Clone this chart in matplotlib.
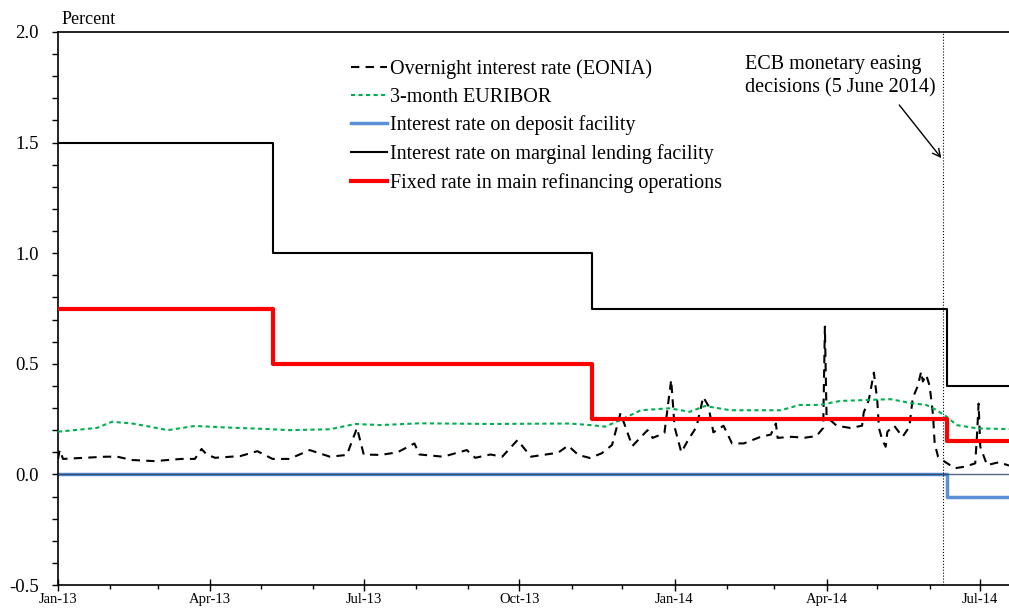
import pandas as pd
import matplotlib
matplotlib.use('Agg')
import matplotlib.pyplot as plt
import matplotlib.dates as mdates
from matplotlib.ticker import MultipleLocator, FormatStrFormatter

plt.rcParams['font.family'] = ['Liberation Serif', 'DejaVu Serif']

# EONIA (overnight rate)
eonia_dates = [
    '2013-01-01', '2013-01-02', '2013-01-04', '2013-01-29', '2013-02-05', '2013-02-14',
    '2013-02-27', '2013-03-15', '2013-03-23', '2013-03-27', '2013-03-30', '2013-04-04',
    '2013-04-19', '2013-04-29', '2013-05-08', '2013-05-18', '2013-05-30', '2013-06-11',
    '2013-06-21', '2013-06-27', '2013-07-01', '2013-07-11', '2013-07-21', '2013-07-31',
    '2013-08-03', '2013-08-17', '2013-08-31', '2013-09-05', '2013-09-14', '2013-09-21',
    '2013-09-30', '2013-10-08', '2013-10-24', '2013-10-30', '2013-11-05', '2013-11-12',
    '2013-11-19', '2013-11-25', '2013-11-30', '2013-12-07', '2013-12-16', '2013-12-19',
    '2013-12-26', '2013-12-30', '2014-01-01', '2014-01-05', '2014-01-09', '2014-01-14',
    '2014-01-18', '2014-01-21', '2014-01-24', '2014-01-30', '2014-02-04', '2014-02-11',
    '2014-02-21', '2014-02-27', '2014-03-02', '2014-03-03', '2014-03-11', '2014-03-19',
    '2014-03-26', '2014-03-30', '2014-03-31', '2014-04-01', '2014-04-07', '2014-04-15',
    '2014-04-22', '2014-04-23', '2014-04-26', '2014-04-29', '2014-05-01', '2014-05-02',
    '2014-05-04', '2014-05-06', '2014-05-07', '2014-05-11', '2014-05-16', '2014-05-20',
    '2014-05-22', '2014-05-25', '2014-05-27', '2014-05-28', '2014-05-30', '2014-06-01',
    '2014-06-02', '2014-06-03', '2014-06-04', '2014-06-06', '2014-06-10', '2014-06-16',
    '2014-06-22', '2014-06-28', '2014-06-29', '2014-06-30', '2014-07-01', '2014-07-05',
    '2014-07-12', '2014-07-18']
eonia = [
    0.07, 0.11, 0.07, 0.08, 0.08, 0.065,
    0.06, 0.07, 0.07, 0.115, 0.09, 0.075,
    0.083, 0.105, 0.07, 0.07, 0.11, 0.08,
    0.088, 0.21, 0.09, 0.088, 0.10, 0.14,
    0.09, 0.08, 0.11, 0.075, 0.09, 0.08,
    0.155, 0.08, 0.098, 0.13, 0.088, 0.074,
    0.096, 0.133, 0.277, 0.128, 0.20, 0.165,
    0.187, 0.427, 0.215, 0.10, 0.155, 0.215,
    0.35, 0.31, 0.19, 0.22, 0.14, 0.14,
    0.17, 0.18, 0.23, 0.165, 0.17, 0.166,
    0.173, 0.21, 0.668, 0.26, 0.22, 0.21,
    0.22, 0.28, 0.336, 0.46, 0.336, 0.21,
    0.155, 0.125, 0.193, 0.22, 0.17, 0.215,
    0.345, 0.40, 0.465, 0.42, 0.45, 0.40,
    0.337, 0.27, 0.14, 0.08, 0.057, 0.028,
    0.035, 0.05, 0.17, 0.32, 0.125, 0.042,
    0.055, 0.04]

# 3-month EURIBOR
euribor_dates = [
    '2013-01-01', '2013-01-24', '2013-02-02', '2013-02-14', '2013-02-25', '2013-03-07',
    '2013-03-23', '2013-04-08', '2013-05-05', '2013-05-18', '2013-06-11', '2013-06-26',
    '2013-07-11', '2013-08-03', '2013-09-14', '2013-10-31', '2013-11-12', '2013-11-21',
    '2013-11-30', '2013-12-12', '2013-12-29', '2014-01-10', '2014-01-19', '2014-01-24',
    '2014-02-03', '2014-03-05', '2014-03-16', '2014-03-28', '2014-04-09', '2014-04-27',
    '2014-05-09', '2014-05-21', '2014-05-30', '2014-06-05', '2014-06-11', '2014-06-17',
    '2014-06-29', '2014-07-18']
euribor = [
    0.193, 0.21, 0.238, 0.23, 0.215, 0.20,
    0.219, 0.213, 0.205, 0.20, 0.204, 0.228,
    0.223, 0.231, 0.228, 0.23, 0.223, 0.216,
    0.246, 0.29, 0.299, 0.283, 0.309, 0.303,
    0.29, 0.29, 0.314, 0.314, 0.332, 0.337,
    0.34, 0.322, 0.314, 0.291, 0.261, 0.223,
    0.208, 0.205]

# ECB policy rates (step changes)
policy_dates = ['2013-01-01', '2013-05-08', '2013-11-13', '2014-06-11', '2014-07-18']
deposit_rate = [0.00, 0.00, 0.00, -0.10, -0.10]
marginal_rate = [1.50, 1.00, 0.75, 0.40, 0.40]
mro_rate = [0.75, 0.50, 0.25, 0.15, 0.15]

event_date = '2014-06-09'
x_start, x_end = '2013-01-01', '2014-07-18'

eonia_dates = pd.to_datetime(eonia_dates)
euribor_dates = pd.to_datetime(euribor_dates)
policy_dates = pd.to_datetime(policy_dates)

fig = plt.figure(figsize=(10.09, 6.09), dpi=100)
ax = fig.add_axes([58 / 1009, 24 / 609, 1 - 58 / 1009, (585 - 32) / 609])

ax.plot(eonia_dates, eonia, color='black', lw=1.5, dashes=(4, 3),
        label='Overnight interest rate (EONIA)', zorder=4)
ax.plot(euribor_dates, euribor, color='#00b050', lw=1.5, dashes=(2, 1.6),
        label='3-month EURIBOR', zorder=4)
ax.step(policy_dates, deposit_rate, where='post', color='#5b8fd6', lw=2.5,
        label='Interest rate on deposit facility', zorder=2)
ax.axhline(0, color='#2a3f5f', lw=1.0, alpha=0.8, zorder=3)
ax.step(policy_dates, marginal_rate, where='post', color='black', lw=1.5,
        label='Interest rate on marginal lending facility', zorder=5)
ax.step(policy_dates, mro_rate, where='post', color='#ff0000', lw=3,
        label='Fixed rate in main refinancing operations', zorder=6)

ax.axvline(pd.Timestamp(event_date), color='black', lw=0.8, ls=':', zorder=7)

ax.set_xlim(pd.Timestamp(x_start), pd.Timestamp(x_end))
ax.set_ylim(-0.5, 2.0)

ax.yaxis.set_major_locator(MultipleLocator(0.5))
ax.yaxis.set_minor_locator(MultipleLocator(0.1))
ax.yaxis.set_major_formatter(FormatStrFormatter('%.1f'))
ax.xaxis.set_major_locator(mdates.MonthLocator(bymonth=[1, 4, 7, 10]))
ax.xaxis.set_minor_locator(mdates.MonthLocator())
ax.xaxis.set_major_formatter(mdates.DateFormatter('%b-%y'))

ax.tick_params(axis='y', which='both', direction='out', length=4, width=1,
               labelsize=13.5, pad=10)
ax.tick_params(axis='x', which='major', direction='inout', length=8, width=1,
               labelsize=10.5, pad=2)
ax.tick_params(axis='x', which='minor', direction='out', length=3, width=1)

for side in ['left', 'bottom', 'top']:
    ax.spines[side].set_linewidth(1.2)
ax.spines['right'].set_visible(False)

leg = ax.legend(loc='upper left', bbox_to_anchor=(351 / 1009, 1 - 59 / 609),
                bbox_transform=fig.transFigure, frameon=False, fontsize=14.5,
                handlelength=1.8, handletextpad=0.12, labelspacing=0.44,
                borderpad=0, borderaxespad=0)

ax.annotate('', xy=(pd.Timestamp(event_date), 1.42),
            xytext=(pd.Timestamp('2014-05-13'), 1.68),
            arrowprops=dict(arrowstyle='->', color='black', lw=1, mutation_scale=14))
ax.text(pd.Timestamp('2014-02-12'), 1.895, 'ECB monetary easing\ndecisions (5 June 2014)',
        ha='left', va='top', fontsize=14.5, linespacing=1.28)

fig.text(62 / 1009, 1 - 20 / 609, 'Percent', ha='left', va='center', fontsize=13)

fig.savefig('out.png', dpi=100)
